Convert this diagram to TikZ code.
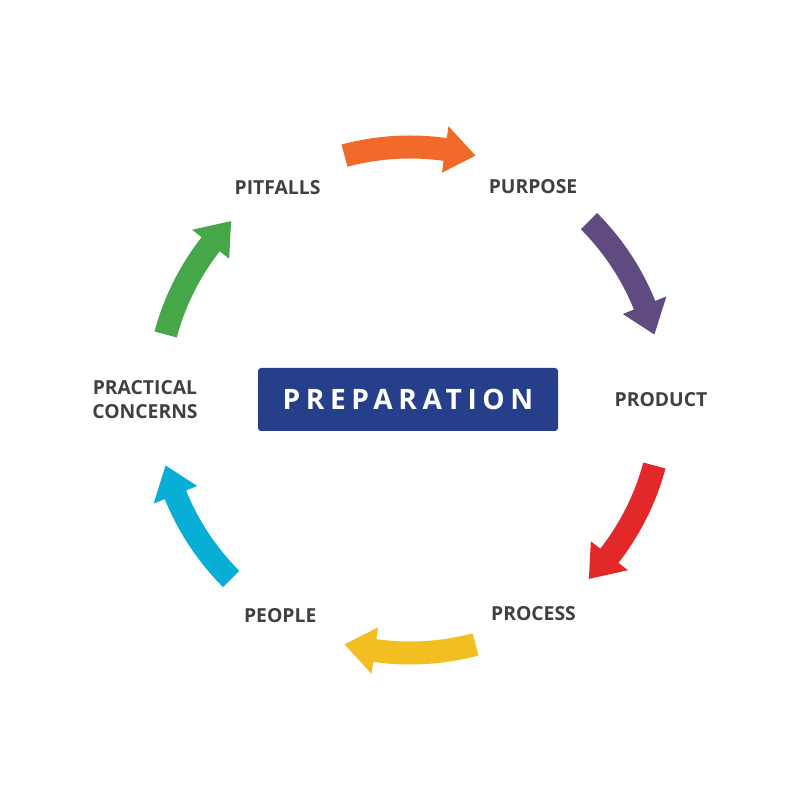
\documentclass[tikz,border=0pt]{standalone}
\usepackage{fontspec}
\setmainfont{Open Sans}
\newfontfamily\spacedfont[LetterSpace=20]{Open Sans}
\usetikzlibrary{positioning}

\definecolor{cycorange}{HTML}{F26A2A}
\definecolor{cycpurple}{HTML}{5F4B80}
\definecolor{cycred}{HTML}{E22828}
\definecolor{cycyellow}{HTML}{F3BE1F}
\definecolor{cyccyan}{HTML}{08AED6}
\definecolor{cycgreen}{HTML}{45A747}
\definecolor{prepblue}{HTML}{253F8B}
\definecolor{labelgray}{HTML}{404040}

\tikzset{
    steplabel/.style={font=\bfseries\fontsize{11}{13.6}\selectfont, text=labelgray, align=center},
    prepbox/.style={fill=prepblue, rounded corners=0.06cm, minimum width=6cm, minimum height=1.26cm,
        text=white, font=\spacedfont\bfseries\fontsize{16}{19}\selectfont}
}

\begin{document}
\begin{tikzpicture}
\useasboundingbox (-8.2,-8) rectangle (7.8,8);

% centre
\node[prepbox] (prep) at (-0.04,0.01) {PREPARATION};

% stages
\node[steplabel] (purpose) at (60:4.92) {PURPOSE};
\node[steplabel] (product) at (0:5.02) {PRODUCT};
\node[steplabel] (process) at (-60:4.94) {PROCESS};
\node[steplabel] (people) at (-121:5.04) {PEOPLE};
\node[steplabel] (practical) at (180:5.3) {PRACTICAL\\CONCERNS};
\node[steplabel] (pitfalls) at (122:5.0) {PITFALLS};

% cycle arrows
\foreach \c/\col in {90/cycorange, 30/cycpurple, -30/cycred, -90/cycyellow, -150/cyccyan, 150/cycgreen}
    \fill[\col] ({\c+15}:5.29) arc[start angle=\c+15, end angle=\c-8, radius=5.29]
        -- ({\c-8}:5.53) -- ({\c-15}:5.06) -- ({\c-8}:4.59)
        -- ({\c-8}:4.83) arc[start angle=\c-8, end angle=\c+15, radius=4.83] -- cycle;
\end{tikzpicture}
\end{document}
